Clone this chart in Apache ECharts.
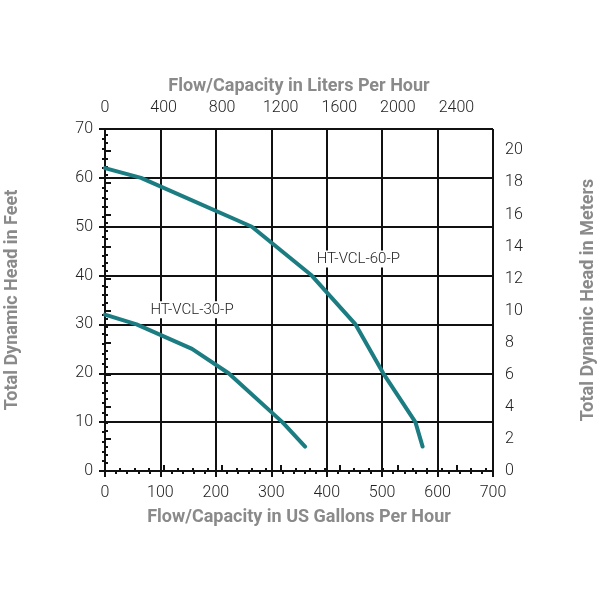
<!DOCTYPE html>
<html><head><meta charset="utf-8">
<script src="https://cdn.jsdelivr.net/npm/echarts@6/dist/echarts.min.js"></script>
<style>html,body{margin:0;padding:0;background:#fff}#c{width:600px;height:600px}</style>
</head><body><div id="c"></div>
<script>
// Flow in US gallons per hour, head in feet
const gph60 = [0, 65, 265, 373, 452, 502, 560, 573];
const ft60  = [62, 60, 50, 40, 30, 20, 10, 5];
const gph30 = [0, 57, 157, 223, 320, 361];
const ft30  = [32, 30, 25, 20, 10, 5];
const seriesNames = ['HT-VCL-60-P', 'HT-VCL-30-P'];
const labelAt60 = [457, 43.4];
const labelAt30 = [157, 33.0];
const gphMax = 700, ftMax = 70;
const LPH_PER_GPH = 3.78541, M_PER_FT = 0.3048;

const FONT = 'Roboto, sans-serif';
const TITLE = {color:'#8a8a8a', fontSize:18, fontWeight:'bold', fontFamily:FONT};
const LBL = {color:'#222', fontSize:16, fontWeight:300, fontFamily:FONT};
const axLine = {show:true, lineStyle:{color:'#111', width:2}};
const tick = {show:true, inside:false, length:6, lineStyle:{color:'#111', width:2}};
const minor = n => ({show:true, splitNumber:n, length:3, lineStyle:{color:'#111', width:2}});
const split = {show:true, lineStyle:{color:'#111', width:2}};

const pair = (xs, ys) => xs.map((x,i)=>[x, ys[i]]);
function lbl(name, at){
  return {symbol:'rect', symbolSize:1, itemStyle:{color:'rgba(0,0,0,0)'},
    data:[{coord:at, value:name}],
    label:{show:true, position:'inside', formatter:name, color:'#222', fontSize:15, fontWeight:300,
      fontFamily:FONT, backgroundColor:'#fff', padding:[1,2]}};
}

const chart = echarts.init(document.getElementById('c'));
chart.setOption({
  animation:false,
  grid:{left:105, right:107, top:129, bottom:129, containLabel:false, outerBoundsMode:'none'},
  xAxis:[
    {type:'value', position:'bottom', min:0, max:gphMax, interval:100,
     name:'Flow/Capacity in US Gallons Per Hour', nameLocation:'middle', nameGap:37, nameTextStyle:TITLE,
     axisLine:axLine, axisTick:tick, minorTick:minor(5), splitLine:split,
     axisLabel:Object.assign({margin:14}, LBL)},
    {type:'value', position:'top', min:0, max:gphMax*LPH_PER_GPH, interval:400,
     name:'Flow/Capacity in Liters Per Hour', nameLocation:'middle', nameGap:33, nameTextStyle:TITLE,
     axisLine:axLine, axisTick:tick, minorTick:minor(4), splitLine:{show:false},
     axisLabel:Object.assign({margin:13, showMaxLabel:false, formatter:v=> (v%400===0? String(v):'')}, LBL)}
  ],
  yAxis:[
    {type:'value', position:'left', min:0, max:ftMax, interval:10,
     name:'Total Dynamic Head in Feet', nameLocation:'middle', nameGap:84, nameRotate:90, nameTextStyle:TITLE,
     axisLine:axLine, axisTick:tick, minorTick:minor(5), splitLine:split,
     axisLabel:Object.assign({margin:12}, LBL)},
    {type:'value', position:'right', min:0, max:ftMax*M_PER_FT, interval:2,
     name:'Total Dynamic Head in Meters', nameLocation:'middle', nameGap:86, nameRotate:90, nameTextStyle:TITLE,
     axisLine:axLine, axisTick:tick, minorTick:minor(4), splitLine:{show:false},
     axisLabel:Object.assign({margin:12, showMaxLabel:false, formatter:v=> (v%2===0? String(v):'')}, LBL)}
  ],
  series:[
    {name:seriesNames[0], type:'line', xAxisIndex:0, yAxisIndex:0, data:pair(gph60, ft60),
     showSymbol:false, symbol:'none', lineStyle:{color:'#1b7d82', width:4, cap:'round', join:'round'},
     markPoint:lbl(seriesNames[0], labelAt60), z:5},
    {name:seriesNames[1], type:'line', xAxisIndex:0, yAxisIndex:0, data:pair(gph30, ft30),
     showSymbol:false, symbol:'none', lineStyle:{color:'#1b7d82', width:4, cap:'round', join:'round'},
     markPoint:lbl(seriesNames[1], labelAt30), z:5}
  ]
});
</script></body></html>
